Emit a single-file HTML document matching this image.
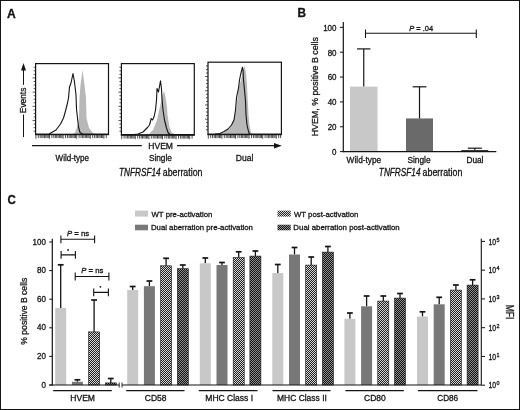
<!DOCTYPE html>
<html><head><meta charset="utf-8"><style>
html,body{margin:0;padding:0;background:#fff;overflow:hidden;}
svg{display:block;will-change:transform;}
text{font-family:"Liberation Sans",sans-serif;fill:#141414;stroke:#141414;stroke-width:0.3px;}
</style></head><body>
<svg width="520" height="410" viewBox="0 0 520 410">
<defs>
<pattern id="h1" patternUnits="userSpaceOnUse" x="0" y="0" width="2" height="2">
<rect width="2" height="2" fill="#d8d8d8"/><rect x="1" y="0" width="1" height="1" fill="#1e1e1e"/><rect x="0" y="1" width="1" height="1" fill="#1e1e1e"/></pattern>
<pattern id="h2" patternUnits="userSpaceOnUse" x="0" y="0" width="2" height="2">
<rect width="2" height="2" fill="#8e8e8e"/><rect x="1" y="0" width="1" height="1" fill="#121212"/><rect x="0" y="1" width="1" height="1" fill="#121212"/></pattern>
</defs>
<rect x="0" y="0" width="520" height="410" fill="#fff"/>

<text x="7.14" y="17.50" font-size="12" textLength="8.75" lengthAdjust="spacingAndGlyphs"><tspan font-weight="bold">A</tspan></text>
<path d="M23.5,63 L21,70.5 L26,70.5 Z" fill="#141414"/>
<line x1="23.5" y1="70" x2="23.5" y2="84.8" stroke="#141414" stroke-width="1"/>
<line x1="23.5" y1="114.6" x2="23.5" y2="137" stroke="#141414" stroke-width="1"/>
<text transform="translate(26.40,112.50) rotate(-90)" x="-0.67" y="0" font-size="8.6" textLength="25.48" lengthAdjust="spacingAndGlyphs"><tspan>Events</tspan></text>
<path d="M72,134 L75,133 L78,124 L79,118 L79.5,98 L80.5,85 L82.5,70 L84.5,85 L86,98 L86.5,118 L89,128 L93,133 L96,134 Z" fill="#b8b8b8"/>
<path d="M36,134.2 L49,134 L56,130 L60.5,124 L63.5,118 L65.5,111 L67.5,103 L68.5,98 L69.5,87 L71,83 L73,73.5 L74.5,82 L76,95 L76.5,109 L77.5,118 L78.5,127 L80,132.5 L83,134.2 L108,134.2" fill="none" stroke="#141414" stroke-width="1.1" stroke-linejoin="round"/>
<rect x="35.6" y="63.6" width="72.90" height="70.70" fill="none" stroke="#141414" stroke-width="1.2"/>
<path d="M33.60,67.30H35.6 M33.60,70.85H35.6 M33.60,74.40H35.6 M32.60,77.95H35.6 M33.60,81.50H35.6 M33.60,85.05H35.6 M33.60,88.60H35.6 M32.60,92.15H35.6 M33.60,95.70H35.6 M33.60,99.25H35.6 M33.60,102.80H35.6 M32.60,106.35H35.6 M33.60,109.90H35.6 M33.60,113.45H35.6 M33.60,117.00H35.6 M32.60,120.55H35.6 M33.60,124.10H35.6 M33.60,127.65H35.6 M33.60,131.20H35.6" stroke="#141414" stroke-width="0.7" fill="none"/>
<path d="M35.90,134.3V138.70000000000002 M38.30,134.3V138.10000000000002 M40.20,134.3V138.10000000000002 M41.80,134.3V138.10000000000002 M43.10,134.3V138.10000000000002 M44.50,134.3V138.10000000000002 M45.80,134.3V138.10000000000002 M47.10,134.3V138.10000000000002 M48.30,134.3V138.10000000000002 M49.50,134.3V138.70000000000002 M51.90,134.3V138.10000000000002 M53.80,134.3V138.10000000000002 M55.40,134.3V138.10000000000002 M56.70,134.3V138.10000000000002 M58.10,134.3V138.10000000000002 M59.40,134.3V138.10000000000002 M60.70,134.3V138.10000000000002 M61.90,134.3V138.10000000000002 M63.10,134.3V138.70000000000002 M65.50,134.3V138.10000000000002 M67.40,134.3V138.10000000000002 M69.00,134.3V138.10000000000002 M70.30,134.3V138.10000000000002 M71.70,134.3V138.10000000000002 M73.00,134.3V138.10000000000002 M74.30,134.3V138.10000000000002 M75.50,134.3V138.10000000000002 M76.70,134.3V138.70000000000002 M79.10,134.3V138.10000000000002 M81.00,134.3V138.10000000000002 M82.60,134.3V138.10000000000002 M83.90,134.3V138.10000000000002 M85.30,134.3V138.10000000000002 M86.60,134.3V138.10000000000002 M87.90,134.3V138.10000000000002 M89.10,134.3V138.10000000000002 M90.30,134.3V138.70000000000002 M92.70,134.3V138.10000000000002 M94.60,134.3V138.10000000000002 M96.20,134.3V138.10000000000002 M97.50,134.3V138.10000000000002 M98.90,134.3V138.10000000000002 M100.20,134.3V138.10000000000002 M101.50,134.3V138.10000000000002 M102.70,134.3V138.10000000000002 M103.90,134.3V138.70000000000002 M106.30,134.3V138.10000000000002" stroke="#141414" stroke-width="0.75" fill="none"/>
<line x1="35.0" y1="134.70000000000002" x2="109.1" y2="134.70000000000002" stroke="#141414" stroke-width="1.0"/>
<path d="M146,134.5 L149,134 L153,130 L157,120 L159,111 L161,102 L162.5,95 L164,91 L165.5,97 L167,107 L167.5,115 L169.5,127 L171.5,132 L175,134.5 Z" fill="#b8b8b8"/>
<path d="M122,134.5 L134,134.5 L138,134 L143,132 L147.5,127.5 L149.5,125 L151.2,118.5 L152.5,120 L154,117 L155.5,110 L156.5,100 L157,88.5 L158.5,92 L160.5,80.8 L161.5,89 L162,99 L163,110 L164.5,120 L166.5,128 L168,132.5 L170,134.5 L194,134.5" fill="none" stroke="#141414" stroke-width="1.1" stroke-linejoin="round"/>
<rect x="121.4" y="63.6" width="72.90" height="71.20" fill="none" stroke="#141414" stroke-width="1.2"/>
<path d="M119.40,67.30H121.4 M119.40,70.85H121.4 M119.40,74.40H121.4 M118.40,77.95H121.4 M119.40,81.50H121.4 M119.40,85.05H121.4 M119.40,88.60H121.4 M118.40,92.15H121.4 M119.40,95.70H121.4 M119.40,99.25H121.4 M119.40,102.80H121.4 M118.40,106.35H121.4 M119.40,109.90H121.4 M119.40,113.45H121.4 M119.40,117.00H121.4 M118.40,120.55H121.4 M119.40,124.10H121.4 M119.40,127.65H121.4 M119.40,131.20H121.4" stroke="#141414" stroke-width="0.7" fill="none"/>
<path d="M121.70,134.8V139.20000000000002 M124.10,134.8V138.60000000000002 M126.00,134.8V138.60000000000002 M127.60,134.8V138.60000000000002 M128.90,134.8V138.60000000000002 M130.30,134.8V138.60000000000002 M131.60,134.8V138.60000000000002 M132.90,134.8V138.60000000000002 M134.10,134.8V138.60000000000002 M135.30,134.8V139.20000000000002 M137.70,134.8V138.60000000000002 M139.60,134.8V138.60000000000002 M141.20,134.8V138.60000000000002 M142.50,134.8V138.60000000000002 M143.90,134.8V138.60000000000002 M145.20,134.8V138.60000000000002 M146.50,134.8V138.60000000000002 M147.70,134.8V138.60000000000002 M148.90,134.8V139.20000000000002 M151.30,134.8V138.60000000000002 M153.20,134.8V138.60000000000002 M154.80,134.8V138.60000000000002 M156.10,134.8V138.60000000000002 M157.50,134.8V138.60000000000002 M158.80,134.8V138.60000000000002 M160.10,134.8V138.60000000000002 M161.30,134.8V138.60000000000002 M162.50,134.8V139.20000000000002 M164.90,134.8V138.60000000000002 M166.80,134.8V138.60000000000002 M168.40,134.8V138.60000000000002 M169.70,134.8V138.60000000000002 M171.10,134.8V138.60000000000002 M172.40,134.8V138.60000000000002 M173.70,134.8V138.60000000000002 M174.90,134.8V138.60000000000002 M176.10,134.8V139.20000000000002 M178.50,134.8V138.60000000000002 M180.40,134.8V138.60000000000002 M182.00,134.8V138.60000000000002 M183.30,134.8V138.60000000000002 M184.70,134.8V138.60000000000002 M186.00,134.8V138.60000000000002 M187.30,134.8V138.60000000000002 M188.50,134.8V138.60000000000002 M189.70,134.8V139.20000000000002 M192.10,134.8V138.60000000000002" stroke="#141414" stroke-width="0.75" fill="none"/>
<line x1="120.80000000000001" y1="135.20000000000002" x2="194.9" y2="135.20000000000002" stroke="#141414" stroke-width="1.0"/>
<path d="M220,134 L223,133 L230,128 L233.5,120 L236,110 L237.5,98 L238,90 L239.5,85 L241,80 L243,70 L244.5,66 L246,73 L247,85 L247.8,101 L248.5,115 L249.5,125 L251,133 L253,134 Z" fill="#b8b8b8"/>
<path d="M208.5,134.2 L215,134 L220,133.5 L224,131.5 L228,129 L231.5,125 L234,120 L235.5,110 L236.5,98 L237,95 L238.5,88 L239.5,80 L240.5,75 L241.5,71 L242.5,67.2 L243,70 L243.5,80 L244.5,90 L245.5,101 L246,115 L247,125 L248.5,131.5 L249.5,134 L252,134.3 L281,134.3" fill="none" stroke="#141414" stroke-width="1.1" stroke-linejoin="round"/>
<rect x="208" y="62.2" width="73.40" height="72.10" fill="none" stroke="#141414" stroke-width="1.2"/>
<path d="M206.00,65.90H208 M206.00,69.45H208 M206.00,73.00H208 M205.00,76.55H208 M206.00,80.10H208 M206.00,83.65H208 M206.00,87.20H208 M205.00,90.75H208 M206.00,94.30H208 M206.00,97.85H208 M206.00,101.40H208 M205.00,104.95H208 M206.00,108.50H208 M206.00,112.05H208 M206.00,115.60H208 M205.00,119.15H208 M206.00,122.70H208 M206.00,126.25H208 M206.00,129.80H208" stroke="#141414" stroke-width="0.7" fill="none"/>
<path d="M208.30,134.3V138.70000000000002 M210.70,134.3V138.10000000000002 M212.60,134.3V138.10000000000002 M214.20,134.3V138.10000000000002 M215.50,134.3V138.10000000000002 M216.90,134.3V138.10000000000002 M218.20,134.3V138.10000000000002 M219.50,134.3V138.10000000000002 M220.70,134.3V138.10000000000002 M221.90,134.3V138.70000000000002 M224.30,134.3V138.10000000000002 M226.20,134.3V138.10000000000002 M227.80,134.3V138.10000000000002 M229.10,134.3V138.10000000000002 M230.50,134.3V138.10000000000002 M231.80,134.3V138.10000000000002 M233.10,134.3V138.10000000000002 M234.30,134.3V138.10000000000002 M235.50,134.3V138.70000000000002 M237.90,134.3V138.10000000000002 M239.80,134.3V138.10000000000002 M241.40,134.3V138.10000000000002 M242.70,134.3V138.10000000000002 M244.10,134.3V138.10000000000002 M245.40,134.3V138.10000000000002 M246.70,134.3V138.10000000000002 M247.90,134.3V138.10000000000002 M249.10,134.3V138.70000000000002 M251.50,134.3V138.10000000000002 M253.40,134.3V138.10000000000002 M255.00,134.3V138.10000000000002 M256.30,134.3V138.10000000000002 M257.70,134.3V138.10000000000002 M259.00,134.3V138.10000000000002 M260.30,134.3V138.10000000000002 M261.50,134.3V138.10000000000002 M262.70,134.3V138.70000000000002 M265.10,134.3V138.10000000000002 M267.00,134.3V138.10000000000002 M268.60,134.3V138.10000000000002 M269.90,134.3V138.10000000000002 M271.30,134.3V138.10000000000002 M272.60,134.3V138.10000000000002 M273.90,134.3V138.10000000000002 M275.10,134.3V138.10000000000002 M276.30,134.3V138.70000000000002 M278.70,134.3V138.10000000000002 M280.60,134.3V138.10000000000002" stroke="#141414" stroke-width="0.75" fill="none"/>
<line x1="207.4" y1="134.70000000000002" x2="282.0" y2="134.70000000000002" stroke="#141414" stroke-width="1.0"/>
<line x1="32" y1="145.6" x2="141.8" y2="145.6" stroke="#141414" stroke-width="1.4"/>
<line x1="177" y1="145.6" x2="275" y2="145.6" stroke="#141414" stroke-width="1.4"/>
<path d="M274,142.9 L281.8,145.7 L274,148.5 Z" fill="#141414"/>
<text x="148.32" y="148.60" font-size="9.0" textLength="24.66" lengthAdjust="spacingAndGlyphs"><tspan>HVEM</tspan></text>
<text x="55.62" y="161.00" font-size="8.8" textLength="33.36" lengthAdjust="spacingAndGlyphs"><tspan>Wild-type</tspan></text>
<text x="148.89" y="161.00" font-size="8.8" textLength="23.03" lengthAdjust="spacingAndGlyphs"><tspan>Single</tspan></text>
<text x="235.82" y="161.00" font-size="8.8" textLength="17.55" lengthAdjust="spacingAndGlyphs"><tspan>Dual</tspan></text>
<text x="119.06" y="175.80" font-size="10.2" textLength="41.64" lengthAdjust="spacingAndGlyphs"><tspan font-style="italic">TNFRSF14</tspan></text>
<text x="162.75" y="175.80" font-size="10.2" textLength="39.71" lengthAdjust="spacingAndGlyphs"><tspan>aberration</tspan></text>
<text x="297.47" y="17.00" font-size="12" textLength="8.52" lengthAdjust="spacingAndGlyphs"><tspan font-weight="bold">B</tspan></text>
<line x1="343.3" y1="22" x2="343.3" y2="152.2" stroke="#141414" stroke-width="1.2"/>
<line x1="340" y1="151.60" x2="343.3" y2="151.60" stroke="#141414" stroke-width="1"/>
<text x="332.04" y="154.91" font-size="8.6" textLength="4.45" lengthAdjust="spacingAndGlyphs">0</text>
<line x1="340" y1="126.75" x2="343.3" y2="126.75" stroke="#141414" stroke-width="1"/>
<text x="327.64" y="130.06" font-size="8.6" textLength="8.90" lengthAdjust="spacingAndGlyphs">20</text>
<line x1="340" y1="101.90" x2="343.3" y2="101.90" stroke="#141414" stroke-width="1"/>
<text x="327.64" y="105.21" font-size="8.6" textLength="8.90" lengthAdjust="spacingAndGlyphs">40</text>
<line x1="340" y1="77.05" x2="343.3" y2="77.05" stroke="#141414" stroke-width="1"/>
<text x="327.64" y="80.36" font-size="8.6" textLength="8.90" lengthAdjust="spacingAndGlyphs">60</text>
<line x1="340" y1="52.20" x2="343.3" y2="52.20" stroke="#141414" stroke-width="1"/>
<text x="327.64" y="55.51" font-size="8.6" textLength="8.90" lengthAdjust="spacingAndGlyphs">80</text>
<line x1="340" y1="27.35" x2="343.3" y2="27.35" stroke="#141414" stroke-width="1"/>
<text x="323.16" y="30.66" font-size="8.6" textLength="13.35" lengthAdjust="spacingAndGlyphs">100</text>
<text transform="translate(318.00,135.60) rotate(-90)" x="-0.71" y="0" font-size="9.4" textLength="99.22" lengthAdjust="spacingAndGlyphs"><tspan>HVEM, % positive B cells</tspan></text>
<rect x="350" y="86.62" width="27.5" height="64.98" fill="#c8c8c8"/>
<rect x="406" y="118.43" width="27" height="33.17" fill="#6a6a6a"/>
<rect x="461.3" y="150.11" width="27" height="1.49" fill="#222"/>
<line x1="363.75" y1="86.62" x2="363.75" y2="48.90" stroke="#141414" stroke-width="1.2"/>
<line x1="357.05" y1="48.90" x2="370.45" y2="48.90" stroke="#141414" stroke-width="1.2"/>
<line x1="419.50" y1="118.43" x2="419.50" y2="86.80" stroke="#141414" stroke-width="1.2"/>
<line x1="412.60" y1="86.80" x2="426.40" y2="86.80" stroke="#141414" stroke-width="1.2"/>
<line x1="474.80" y1="150.11" x2="474.80" y2="148.20" stroke="#141414" stroke-width="1.2"/>
<line x1="467.80" y1="148.20" x2="481.80" y2="148.20" stroke="#141414" stroke-width="1.2"/>
<line x1="343.3" y1="151.6" x2="496.3" y2="151.6" stroke="#141414" stroke-width="1.2"/>
<path d="M365.5,29.5V38 M365.5,33.3H476.3 M476.3,29.5V38" stroke="#141414" stroke-width="1.1" fill="none"/>
<text x="409.18" y="30.60" font-size="7.6" textLength="23.93" lengthAdjust="spacingAndGlyphs"><tspan font-style="italic">P</tspan><tspan> = .04</tspan></text>
<text x="346.62" y="162.70" font-size="8.8" textLength="34.58" lengthAdjust="spacingAndGlyphs"><tspan>Wild-type</tspan></text>
<text x="407.48" y="162.70" font-size="8.8" textLength="23.13" lengthAdjust="spacingAndGlyphs"><tspan>Single</tspan></text>
<text x="466.44" y="162.50" font-size="8.8" textLength="17.01" lengthAdjust="spacingAndGlyphs"><tspan>Dual</tspan></text>
<text x="378.86" y="175.90" font-size="10.2" textLength="41.64" lengthAdjust="spacingAndGlyphs"><tspan font-style="italic">TNFRSF14</tspan></text>
<text x="422.55" y="175.90" font-size="10.2" textLength="39.81" lengthAdjust="spacingAndGlyphs"><tspan>aberration</tspan></text>
<text x="7.54" y="203.70" font-size="12" textLength="8.33" lengthAdjust="spacingAndGlyphs"><tspan font-weight="bold">C</tspan></text>
<rect x="135" y="210.6" width="13" height="6" fill="#c8c8c8"/>
<rect x="135" y="224.7" width="13" height="5.6" fill="#787878"/>
<rect x="277.5" y="210.6" width="13.2" height="6" fill="url(#h1)"/>
<rect x="277.5" y="224.7" width="13.2" height="5.6" fill="url(#h2)"/>
<text x="151.52" y="216.50" font-size="8.0" textLength="60.90" lengthAdjust="spacingAndGlyphs"><tspan>WT pre-activation</tspan></text>
<text x="150.98" y="230.20" font-size="8.0" textLength="101.95" lengthAdjust="spacingAndGlyphs"><tspan>Dual aberration pre-activation</tspan></text>
<text x="293.92" y="216.50" font-size="8.0" textLength="64.46" lengthAdjust="spacingAndGlyphs"><tspan>WT post-activation</tspan></text>
<text x="293.37" y="230.20" font-size="8.0" textLength="106.32" lengthAdjust="spacingAndGlyphs"><tspan>Dual aberration post-activation</tspan></text>
<line x1="52.3" y1="238.7" x2="52.3" y2="385.6" stroke="#141414" stroke-width="1.2"/>
<line x1="49.2" y1="385.00" x2="52.3" y2="385.00" stroke="#141414" stroke-width="1"/>
<text x="41.44" y="387.51" font-size="8.6" textLength="4.45" lengthAdjust="spacingAndGlyphs">0</text>
<line x1="49.2" y1="356.40" x2="52.3" y2="356.40" stroke="#141414" stroke-width="1"/>
<text x="37.04" y="358.91" font-size="8.6" textLength="8.90" lengthAdjust="spacingAndGlyphs">20</text>
<line x1="49.2" y1="327.80" x2="52.3" y2="327.80" stroke="#141414" stroke-width="1"/>
<text x="37.04" y="330.31" font-size="8.6" textLength="8.90" lengthAdjust="spacingAndGlyphs">40</text>
<line x1="49.2" y1="299.20" x2="52.3" y2="299.20" stroke="#141414" stroke-width="1"/>
<text x="37.04" y="301.71" font-size="8.6" textLength="8.90" lengthAdjust="spacingAndGlyphs">60</text>
<line x1="49.2" y1="270.60" x2="52.3" y2="270.60" stroke="#141414" stroke-width="1"/>
<text x="37.04" y="273.11" font-size="8.6" textLength="8.90" lengthAdjust="spacingAndGlyphs">80</text>
<line x1="49.2" y1="242.00" x2="52.3" y2="242.00" stroke="#141414" stroke-width="1"/>
<text x="32.56" y="244.51" font-size="8.6" textLength="13.35" lengthAdjust="spacingAndGlyphs">100</text>
<text transform="translate(26.60,344.40) rotate(-90)" x="-0.34" y="0" font-size="9.2" textLength="67.00" lengthAdjust="spacingAndGlyphs"><tspan>% positive B cells</tspan></text>
<line x1="481.3" y1="238.4" x2="481.3" y2="385.6" stroke="#141414" stroke-width="1.1"/>
<line x1="481.3" y1="385.20" x2="485" y2="385.20" stroke="#141414" stroke-width="1"/>
<text x="488.44" y="388.30" font-size="8.2" textLength="7.60" lengthAdjust="spacingAndGlyphs">10</text>
<text x="496.44" y="385.30" font-size="5.4">0</text>
<line x1="481.3" y1="356.44" x2="485" y2="356.44" stroke="#141414" stroke-width="1"/>
<text x="488.44" y="359.54" font-size="8.2" textLength="7.60" lengthAdjust="spacingAndGlyphs">10</text>
<text x="496.44" y="356.54" font-size="5.4">1</text>
<line x1="481.3" y1="327.68" x2="485" y2="327.68" stroke="#141414" stroke-width="1"/>
<text x="488.44" y="330.78" font-size="8.2" textLength="7.60" lengthAdjust="spacingAndGlyphs">10</text>
<text x="496.44" y="327.78" font-size="5.4">2</text>
<line x1="481.3" y1="298.92" x2="485" y2="298.92" stroke="#141414" stroke-width="1"/>
<text x="488.44" y="302.02" font-size="8.2" textLength="7.60" lengthAdjust="spacingAndGlyphs">10</text>
<text x="496.44" y="299.02" font-size="5.4">3</text>
<line x1="481.3" y1="270.16" x2="485" y2="270.16" stroke="#141414" stroke-width="1"/>
<text x="488.44" y="273.26" font-size="8.2" textLength="7.60" lengthAdjust="spacingAndGlyphs">10</text>
<text x="496.44" y="270.26" font-size="5.4">4</text>
<line x1="481.3" y1="241.40" x2="485" y2="241.40" stroke="#141414" stroke-width="1"/>
<text x="488.44" y="244.50" font-size="8.2" textLength="7.60" lengthAdjust="spacingAndGlyphs">10</text>
<text x="496.44" y="241.50" font-size="5.4">5</text>
<text transform="translate(505.90,305.30) rotate(90)" x="-0.68" y="0" font-size="10.0" textLength="14.66" lengthAdjust="spacingAndGlyphs"><tspan>MFI</tspan></text>
<line x1="60.70" y1="308.00" x2="60.70" y2="264.80" stroke="#141414" stroke-width="1.3"/>
<line x1="57.80" y1="264.80" x2="63.60" y2="264.80" stroke="#141414" stroke-width="1.7"/>
<rect x="55.20" y="308" width="11" height="77.00" fill="#c8c8c8"/>
<line x1="77.40" y1="381.80" x2="77.40" y2="379.80" stroke="#141414" stroke-width="1.3"/>
<line x1="74.50" y1="379.80" x2="80.30" y2="379.80" stroke="#141414" stroke-width="1.7"/>
<rect x="71.90" y="381.8" width="11" height="3.20" fill="#787878"/>
<line x1="94.10" y1="331.90" x2="94.10" y2="300.00" stroke="#141414" stroke-width="1.3"/>
<line x1="91.20" y1="300.00" x2="97.00" y2="300.00" stroke="#141414" stroke-width="1.7"/>
<rect x="88.60" y="331.90000000000003" width="11" height="53.10" fill="url(#h1)" stroke="#141414" stroke-width="0.6"/>
<line x1="110.80" y1="382.90" x2="110.80" y2="378.50" stroke="#141414" stroke-width="1.3"/>
<line x1="107.90" y1="378.50" x2="113.70" y2="378.50" stroke="#141414" stroke-width="1.7"/>
<rect x="105.30" y="382.90000000000003" width="11" height="2.10" fill="url(#h2)" stroke="#141414" stroke-width="0.6"/>
<line x1="132.70" y1="290.00" x2="132.70" y2="286.50" stroke="#141414" stroke-width="1.3"/>
<line x1="129.80" y1="286.50" x2="135.60" y2="286.50" stroke="#141414" stroke-width="1.7"/>
<rect x="127.20" y="290" width="11" height="95.00" fill="#c8c8c8"/>
<line x1="149.40" y1="286.20" x2="149.40" y2="281.00" stroke="#141414" stroke-width="1.3"/>
<line x1="146.50" y1="281.00" x2="152.30" y2="281.00" stroke="#141414" stroke-width="1.7"/>
<rect x="143.90" y="286.2" width="11" height="98.80" fill="#787878"/>
<line x1="166.10" y1="265.80" x2="166.10" y2="258.30" stroke="#141414" stroke-width="1.3"/>
<line x1="163.20" y1="258.30" x2="169.00" y2="258.30" stroke="#141414" stroke-width="1.7"/>
<rect x="160.60" y="265.8" width="11" height="119.20" fill="url(#h1)" stroke="#141414" stroke-width="0.6"/>
<line x1="182.80" y1="268.70" x2="182.80" y2="265.00" stroke="#141414" stroke-width="1.3"/>
<line x1="179.90" y1="265.00" x2="185.70" y2="265.00" stroke="#141414" stroke-width="1.7"/>
<rect x="177.30" y="268.70000000000005" width="11" height="116.30" fill="url(#h2)" stroke="#141414" stroke-width="0.6"/>
<line x1="205.30" y1="263.30" x2="205.30" y2="258.00" stroke="#141414" stroke-width="1.3"/>
<line x1="202.40" y1="258.00" x2="208.20" y2="258.00" stroke="#141414" stroke-width="1.7"/>
<rect x="199.80" y="263.3" width="11" height="121.70" fill="#c8c8c8"/>
<line x1="222.00" y1="265.00" x2="222.00" y2="262.50" stroke="#141414" stroke-width="1.3"/>
<line x1="219.10" y1="262.50" x2="224.90" y2="262.50" stroke="#141414" stroke-width="1.7"/>
<rect x="216.50" y="265" width="11" height="120.00" fill="#787878"/>
<line x1="238.70" y1="257.60" x2="238.70" y2="251.80" stroke="#141414" stroke-width="1.3"/>
<line x1="235.80" y1="251.80" x2="241.60" y2="251.80" stroke="#141414" stroke-width="1.7"/>
<rect x="233.20" y="257.6" width="11" height="127.40" fill="url(#h1)" stroke="#141414" stroke-width="0.6"/>
<line x1="255.40" y1="256.10" x2="255.40" y2="251.00" stroke="#141414" stroke-width="1.3"/>
<line x1="252.50" y1="251.00" x2="258.30" y2="251.00" stroke="#141414" stroke-width="1.7"/>
<rect x="249.90" y="256.1" width="11" height="128.90" fill="url(#h2)" stroke="#141414" stroke-width="0.6"/>
<line x1="277.80" y1="273.00" x2="277.80" y2="264.50" stroke="#141414" stroke-width="1.3"/>
<line x1="274.90" y1="264.50" x2="280.70" y2="264.50" stroke="#141414" stroke-width="1.7"/>
<rect x="272.30" y="273" width="11" height="112.00" fill="#c8c8c8"/>
<line x1="294.50" y1="254.50" x2="294.50" y2="247.50" stroke="#141414" stroke-width="1.3"/>
<line x1="291.60" y1="247.50" x2="297.40" y2="247.50" stroke="#141414" stroke-width="1.7"/>
<rect x="289.00" y="254.5" width="11" height="130.50" fill="#787878"/>
<line x1="311.20" y1="265.10" x2="311.20" y2="257.00" stroke="#141414" stroke-width="1.3"/>
<line x1="308.30" y1="257.00" x2="314.10" y2="257.00" stroke="#141414" stroke-width="1.7"/>
<rect x="305.70" y="265.1" width="11" height="119.90" fill="url(#h1)" stroke="#141414" stroke-width="0.6"/>
<line x1="327.90" y1="252.10" x2="327.90" y2="246.50" stroke="#141414" stroke-width="1.3"/>
<line x1="325.00" y1="246.50" x2="330.80" y2="246.50" stroke="#141414" stroke-width="1.7"/>
<rect x="322.40" y="252.1" width="11" height="132.90" fill="url(#h2)" stroke="#141414" stroke-width="0.6"/>
<line x1="349.90" y1="318.80" x2="349.90" y2="313.00" stroke="#141414" stroke-width="1.3"/>
<line x1="347.00" y1="313.00" x2="352.80" y2="313.00" stroke="#141414" stroke-width="1.7"/>
<rect x="344.40" y="318.8" width="11" height="66.20" fill="#c8c8c8"/>
<line x1="366.60" y1="306.30" x2="366.60" y2="296.00" stroke="#141414" stroke-width="1.3"/>
<line x1="363.70" y1="296.00" x2="369.50" y2="296.00" stroke="#141414" stroke-width="1.7"/>
<rect x="361.10" y="306.3" width="11" height="78.70" fill="#787878"/>
<line x1="383.30" y1="301.10" x2="383.30" y2="296.00" stroke="#141414" stroke-width="1.3"/>
<line x1="380.40" y1="296.00" x2="386.20" y2="296.00" stroke="#141414" stroke-width="1.7"/>
<rect x="377.80" y="301.1" width="11" height="83.90" fill="url(#h1)" stroke="#141414" stroke-width="0.6"/>
<line x1="400.00" y1="298.10" x2="400.00" y2="293.50" stroke="#141414" stroke-width="1.3"/>
<line x1="397.10" y1="293.50" x2="402.90" y2="293.50" stroke="#141414" stroke-width="1.7"/>
<rect x="394.50" y="298.1" width="11" height="86.90" fill="url(#h2)" stroke="#141414" stroke-width="0.6"/>
<line x1="422.50" y1="316.50" x2="422.50" y2="311.80" stroke="#141414" stroke-width="1.3"/>
<line x1="419.60" y1="311.80" x2="425.40" y2="311.80" stroke="#141414" stroke-width="1.7"/>
<rect x="417.00" y="316.5" width="11" height="68.50" fill="#c8c8c8"/>
<line x1="439.20" y1="304.30" x2="439.20" y2="297.30" stroke="#141414" stroke-width="1.3"/>
<line x1="436.30" y1="297.30" x2="442.10" y2="297.30" stroke="#141414" stroke-width="1.7"/>
<rect x="433.70" y="304.3" width="11" height="80.70" fill="#787878"/>
<line x1="455.90" y1="290.10" x2="455.90" y2="285.00" stroke="#141414" stroke-width="1.3"/>
<line x1="453.00" y1="285.00" x2="458.80" y2="285.00" stroke="#141414" stroke-width="1.7"/>
<rect x="450.40" y="290.1" width="11" height="94.90" fill="url(#h1)" stroke="#141414" stroke-width="0.6"/>
<line x1="472.60" y1="285.10" x2="472.60" y2="279.80" stroke="#141414" stroke-width="1.3"/>
<line x1="469.70" y1="279.80" x2="475.50" y2="279.80" stroke="#141414" stroke-width="1.7"/>
<rect x="467.10" y="285.1" width="11" height="99.90" fill="url(#h2)" stroke="#141414" stroke-width="0.6"/>
<line x1="49.2" y1="385" x2="119.2" y2="385" stroke="#141414" stroke-width="1.2"/>
<line x1="122" y1="385" x2="481" y2="385" stroke="#141414" stroke-width="1.2"/>
<path d="M119.2,382.5V387.5 M122,382.5V387.5" stroke="#141414" stroke-width="0.9"/>
<line x1="53.2" y1="390.6" x2="111.8" y2="390.6" stroke="#141414" stroke-width="1.45"/>
<line x1="126.2" y1="390.6" x2="184.5" y2="390.6" stroke="#141414" stroke-width="1.45"/>
<line x1="198.8" y1="390.6" x2="257.5" y2="390.6" stroke="#141414" stroke-width="1.45"/>
<line x1="272.5" y1="390.6" x2="330.5" y2="390.6" stroke="#141414" stroke-width="1.45"/>
<line x1="345.4" y1="390.6" x2="403.8" y2="390.6" stroke="#141414" stroke-width="1.45"/>
<line x1="418" y1="390.6" x2="477.5" y2="390.6" stroke="#141414" stroke-width="1.45"/>
<text x="70.32" y="401.20" font-size="8.6" textLength="24.66" lengthAdjust="spacingAndGlyphs"><tspan>HVEM</tspan></text>
<text x="144.78" y="401.20" font-size="8.6" textLength="21.72" lengthAdjust="spacingAndGlyphs"><tspan>CD58</tspan></text>
<text x="205.32" y="401.20" font-size="8.6" textLength="47.76" lengthAdjust="spacingAndGlyphs"><tspan>MHC Class I</tspan></text>
<text x="277.02" y="401.20" font-size="8.6" textLength="49.83" lengthAdjust="spacingAndGlyphs"><tspan>MHC Class II</tspan></text>
<text x="364.07" y="401.20" font-size="8.6" textLength="21.74" lengthAdjust="spacingAndGlyphs"><tspan>CD80</tspan></text>
<text x="437.29" y="401.20" font-size="8.6" textLength="20.89" lengthAdjust="spacingAndGlyphs"><tspan>CD86</tspan></text>
<path d="M60.9,235.4V243.20000000000002 M60.9,239.3H94.6 M94.6,235.4V243.20000000000002" stroke="#141414" stroke-width="1.1" fill="none"/>
<path d="M61.1,251.1V258.7 M61.1,254.9H75.4 M75.4,251.1V258.7" stroke="#141414" stroke-width="1.1" fill="none"/>
<path d="M75.2,272.4V280.6 M75.2,276.5H108.9 M108.9,272.4V280.6" stroke="#141414" stroke-width="1.1" fill="none"/>
<path d="M93.7,288.5V296.29999999999995 M93.7,292.4H108.4 M108.4,288.5V296.29999999999995" stroke="#141414" stroke-width="1.1" fill="none"/>
<text x="66.97" y="236.40" font-size="7.6" textLength="22.19" lengthAdjust="spacingAndGlyphs"><tspan font-style="italic">P</tspan><tspan> = ns</tspan></text>
<text x="81.27" y="272.90" font-size="7.6" textLength="22.09" lengthAdjust="spacingAndGlyphs"><tspan font-style="italic">P</tspan><tspan> = ns</tspan></text>
<circle cx="68.1" cy="250" r="0.9" fill="#141414"/>
<circle cx="100.4" cy="286.8" r="0.9" fill="#141414"/>
<rect x="0.5" y="0.5" width="519" height="409" fill="none" stroke="#141414" stroke-width="1"/>
</svg></body></html>
